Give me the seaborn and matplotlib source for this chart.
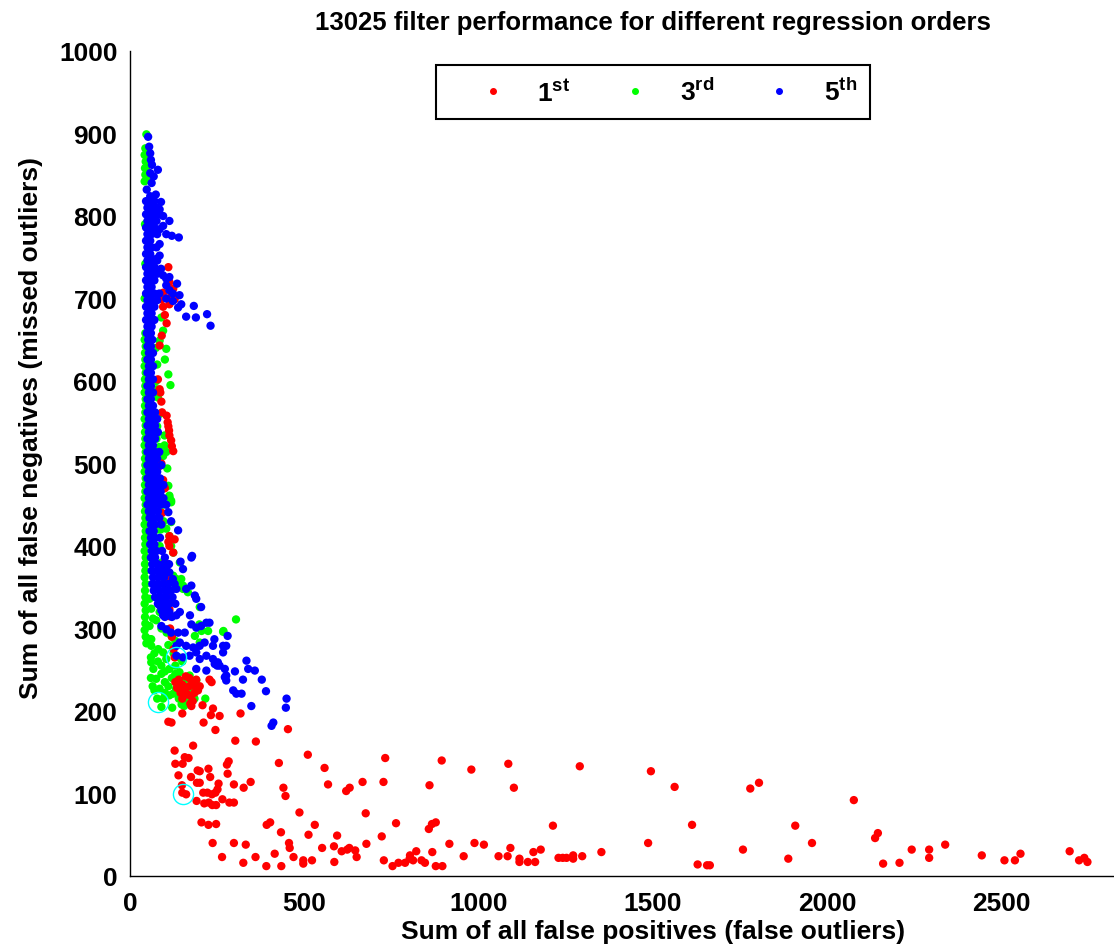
import matplotlib
matplotlib.use("Agg")
import matplotlib.pyplot as plt
from matplotlib.lines import Line2D
import seaborn as sns
import pandas as pd

# Filter runs: (sum of false positives, sum of false negatives) per regression order
first_order = [
    (110, 738), (113, 720), (124, 712), (95, 707), (91, 699), (113, 693), (128, 699), (118, 703),
    (100, 680), (105, 670), (95, 690), (91, 655), (85, 643),
    (80, 602), (85, 590), (87, 586), (90, 575), (92, 562), (105, 558), (108, 550), (110, 545),
    (112, 540), (113, 534), (118, 528), (120, 521), (124, 515),
    (90, 500), (85, 497), (100, 470), (95, 480), (85, 457), (92, 440), (89, 427), (110, 405),
    (113, 412), (113, 400), (128, 408), (124, 392),
    (100, 380), (105, 360), (110, 340), (113, 323), (113, 315), (108, 330), (115, 300), (120, 290),
    (128, 265), (125, 275),
    (130, 235), (140, 238), (150, 232), (160, 228), (170, 230), (180, 235), (190, 228), (145, 222),
    (155, 225), (165, 220), (175, 218), (185, 222), (195, 225), (135, 228), (170, 240), (160, 242),
    (190, 238), (150, 215), (180, 212), (200, 230), (173, 209), (176, 206),
    (228, 238), (234, 235), (208, 207), (238, 203), (232, 195), (257, 194), (317, 197), (211, 186),
    (245, 177), (150, 197), (110, 187), (119, 186),
    (302, 164), (361, 163), (453, 178), (181, 158), (128, 152), (510, 147), (157, 144), (168, 143),
    (130, 136), (151, 136), (278, 135), (283, 139), (427, 137), (194, 128), (200, 127), (225, 130),
    (280, 124), (139, 122), (175, 120), (230, 120), (200, 113), (192, 113), (149, 110), (150, 101),
    (161, 99), (254, 112), (298, 111), (326, 107), (346, 114), (440, 107), (446, 97), (210, 101),
    (222, 101), (235, 99), (245, 101), (251, 105), (191, 91), (213, 88), (226, 89), (236, 86),
    (247, 86), (265, 93), (285, 89), (298, 89), (486, 77), (205, 65), (225, 62), (247, 63),
    (392, 62), (402, 65), (433, 53), (512, 50), (530, 62), (237, 40), (298, 40), (332, 38),
    (456, 40), (458, 34), (415, 27), (264, 23), (360, 23), (469, 23), (325, 16), (391, 12),
    (434, 12), (497, 19), (522, 19),
    (558, 131), (568, 111), (620, 103), (630, 107), (667, 114), (727, 114), (732, 143), (859, 110),
    (894, 140), (594, 49), (676, 76), (678, 39), (763, 64), (857, 57), (866, 63), (877, 65),
    (916, 39), (551, 34), (585, 36), (607, 30), (623, 32), (629, 34), (646, 31), (650, 23),
    (722, 48), (497, 15), (586, 17), (728, 19), (753, 12), (770, 16), (789, 16), (803, 25),
    (802, 21), (812, 19), (821, 30), (836, 19), (846, 16), (867, 29), (877, 12), (896, 12),
    (957, 24),
    (979, 129), (1085, 136), (1101, 107), (1290, 133), (1494, 127), (1562, 108), (1779, 106),
    (1804, 113), (1213, 61), (1612, 62), (988, 40), (1015, 38), (1057, 24), (1083, 24), (1091, 34),
    (1117, 21), (1117, 17), (1141, 17), (1162, 17), (1157, 29), (1178, 32), (1229, 22), (1241, 22),
    (1252, 22), (1271, 25), (1271, 21), (1297, 24), (1352, 29), (1486, 40), (1628, 14), (1655, 13),
    (1663, 13), (1758, 32), (1888, 21),
    (1908, 61), (2137, 46), (2145, 52), (2076, 92), (1956, 40), (2160, 15), (2207, 16), (2242, 32),
    (2292, 32), (2292, 22), (2338, 38), (2443, 25), (2508, 19), (2538, 19), (2554, 27), (2695, 30),
    (2722, 19), (2737, 22), (2746, 17),
]

third_order = [
    # left edge of the dense column
    (44, 882), (42, 874), (45, 866), (43, 858), (44, 850), (42, 842),
    (43, 790), (44, 742), (42, 700),
    (44, 658), (42, 650), (45, 642), (43, 634),
    (44, 626), (42, 618), (45, 610), (43, 602), (44, 594), (42, 586), (45, 578), (43, 570),
    (44, 562), (42, 554), (45, 546), (43, 538), (44, 530), (42, 522), (45, 514), (43, 506),
    (44, 498), (42, 490), (45, 482), (43, 474), (44, 466), (42, 458), (45, 450), (43, 442),
    (44, 434), (42, 426), (45, 418), (43, 410), (44, 402), (42, 394), (45, 386), (43, 378),
    (44, 370), (42, 362), (45, 354), (43, 346), (44, 338), (42, 330), (45, 322), (43, 314),
    (44, 306), (42, 298), (45, 290), (47, 282),
    # scattered points of the column
    (47, 899), (52, 879), (50, 870), (48, 860), (52, 847), (90, 677), (95, 661),
    (104, 639), (100, 626), (110, 608), (116, 595), (85, 649), (60, 670), (55, 660),
    (99, 534), (99, 522), (104, 514), (95, 509), (107, 494), (110, 473), (113, 461), (118, 455),
    (113, 459), (118, 453), (118, 429), (104, 421), (113, 412), (118, 400), (124, 392),
    (143, 380), (147, 360), (152, 352), (166, 344), (142, 356), (152, 348), (124, 364), (133, 360),
    (56, 336), (61, 324), (66, 312), (56, 303), (61, 287), (58, 287),
    (74, 640), (78, 620), (76, 590), (80, 560), (76, 530), (84, 520), (78, 505), (82, 480),
    (86, 460), (94, 450), (96, 430), (88, 420),
    (75, 600), (80, 580), (85, 560), (78, 545), (82, 500), (88, 470), (90, 440), (80, 420),
    (85, 400), (90, 380), (95, 370), (100, 360), (105, 350), (110, 340), (100, 330), (85, 320),
    (75, 310), (90, 300), (105, 295), (120, 290), (130, 285), (110, 280), (125, 270), (140, 265),
    # low cluster
    (61, 279), (81, 275), (95, 271), (104, 263), (61, 259), (67, 251),
    (113, 251), (142, 247), (75, 239), (161, 239), (152, 231), (132, 227), (85, 227), (70, 225),
    (113, 219), (95, 215), (124, 221), (152, 221), (171, 243), (190, 237), (216, 215), (155, 206),
    (121, 204), (148, 208), (150, 260), (130, 255), (90, 245), (100, 235), (140, 235), (170, 230),
    (60, 265), (70, 270), (80, 260), (90, 255), (100, 248), (120, 240), (130, 245), (110, 230),
    (100, 222), (140, 215), (165, 212), (180, 225), (185, 215), (60, 240), (65, 230), (78, 215),
    (90, 205),
    (304, 311), (268, 297), (200, 283), (186, 291), (199, 305), (205, 297), (224, 297), (267, 296),
    (200, 326),
]

fifth_order = [
    # dense column
    (52, 896), (55, 884), (58, 876), (60, 868), (63, 862),
    (58, 852), (68, 848), (62, 840), (74, 826), (58, 824), (48, 832),
    (46, 818), (58, 818), (70, 818), (50, 810), (62, 810), (76, 810),
    (46, 802), (58, 802), (70, 802), (84, 802), (50, 794), (62, 794), (76, 794),
    (46, 786), (58, 786), (70, 786), (50, 778), (62, 778), (78, 778),
    (46, 770), (58, 770), (50, 762), (62, 762), (76, 762), (46, 754), (58, 754),
    (50, 746), (62, 746), (78, 746), (46, 738), (58, 738), (70, 738),
    (50, 730), (62, 730), (78, 730), (46, 722), (58, 722), (70, 722), (50, 714), (62, 714),
    (46, 706), (58, 706), (70, 706), (84, 706), (50, 698), (62, 698), (78, 698),
    (46, 690), (58, 690), (70, 690), (50, 682), (62, 682), (46, 674), (58, 674), (70, 674),
    (50, 666), (62, 666), (48, 658), (60, 658), (52, 650), (64, 650),
    (50, 642), (60, 642), (54, 634), (66, 634), (50, 626), (60, 626), (54, 618), (66, 618),
    (50, 610), (60, 610), (54, 602), (66, 602), (50, 594), (60, 594), (54, 586), (66, 586),
    (50, 578), (60, 578), (54, 570), (66, 570), (50, 562), (60, 562), (72, 562),
    (54, 554), (66, 554), (78, 554), (50, 546), (60, 546), (72, 546),
    (54, 538), (66, 538), (80, 538), (50, 530), (60, 530), (72, 530), (54, 522), (66, 522),
    (50, 514), (60, 514), (72, 514), (84, 514), (54, 506), (66, 506), (78, 506),
    (50, 498), (60, 498), (72, 498), (90, 498), (54, 490), (66, 490), (78, 490),
    (50, 482), (60, 482), (72, 482), (86, 482), (54, 474), (66, 474), (80, 474), (96, 474),
    (50, 466), (60, 466), (72, 466), (88, 466), (54, 458), (66, 458), (80, 458), (96, 458),
    (50, 450), (60, 450), (72, 450), (88, 450), (104, 450), (54, 442), (66, 442), (80, 442),
    (56, 434), (68, 434), (84, 434), (60, 426), (72, 426), (90, 426), (56, 418), (68, 418),
    (60, 410), (72, 410), (86, 410), (58, 402), (70, 402), (62, 394), (76, 394), (92, 394),
    (60, 386), (72, 386), (100, 386), (64, 378), (80, 378), (96, 378), (112, 378),
    (62, 370), (76, 370), (90, 370), (106, 370), (66, 362), (82, 362), (98, 362),
    (64, 354), (78, 354), (94, 354), (110, 354), (128, 354), (68, 346), (84, 346), (100, 346),
    (118, 346), (72, 338), (88, 338), (104, 338), (122, 338), (80, 330), (96, 330), (112, 330),
    (130, 330), (90, 322), (108, 322), (100, 314), (120, 314),
    # offshoots of the column
    (80, 856), (89, 817), (85, 808), (95, 800), (113, 794), (104, 778), (120, 776), (140, 774),
    (95, 788), (85, 784), (85, 766), (75, 748), (85, 752), (89, 736), (95, 728), (104, 724),
    (113, 726), (135, 718), (104, 716), (113, 710), (123, 706), (142, 704), (104, 700), (123, 697),
    (147, 693), (138, 689), (183, 691), (161, 678), (189, 677), (221, 681), (231, 667),
    (110, 441), (118, 430), (138, 419), (176, 386), (178, 388), (145, 381), (152, 372),
    (104, 376), (113, 368), (123, 360), (104, 344), (133, 348), (161, 348), (176, 352), (186, 340),
    (190, 336), (204, 326), (85, 328), (104, 324), (113, 320), (95, 316), (133, 316), (143, 320),
    # spread below the column
    (90, 303), (104, 299), (118, 295), (138, 295), (157, 295), (172, 316), (176, 305), (190, 301),
    (204, 303), (219, 307), (228, 307), (143, 283), (161, 279), (133, 279), (181, 277), (200, 279),
    (214, 283), (242, 287), (238, 279), (267, 279), (280, 291), (276, 279), (267, 271), (133, 267),
    (152, 265), (171, 267), (190, 271), (200, 263), (219, 267), (238, 263), (252, 259), (257, 255),
    (190, 251), (219, 249), (243, 257), (272, 251), (301, 248), (334, 261), (339, 251), (358, 249),
    (272, 241), (276, 237), (324, 238), (378, 238), (296, 225), (305, 221), (320, 221), (390, 224),
    (348, 206), (449, 215), (447, 204), (411, 186), (406, 182), (276, 243), (250, 255),
]

# Highlighted operating points
marked_x = [80, 132, 151]
marked_y = [211, 265, 100]

series_labels = [r"1$^{\mathbf{st}}$", r"3$^{\mathbf{rd}}$", r"5$^{\mathbf{th}}$"]
series_colors = ["#ff0000", "#00ff00", "#0000ff"]
x_ticks = [0, 500, 1000, 1500, 2000, 2500]
y_ticks = list(range(0, 1001, 100))


def to_frame(points, order):
    return pd.DataFrame({"fp": [p[0] for p in points],
                         "fn": [p[1] for p in points],
                         "order": order})


data = pd.concat([to_frame(third_order, "3rd"),
                  to_frame(first_order, "1st"),
                  to_frame(fifth_order, "5th")], ignore_index=True)

sns.set_theme(style="white")
plt.rcParams["font.family"] = ["Liberation Sans", "DejaVu Sans"]
plt.rcParams["font.weight"] = "bold"
plt.rcParams["mathtext.fontset"] = "custom"
plt.rcParams["mathtext.rm"] = "Liberation Sans:bold"
plt.rcParams["mathtext.it"] = "Liberation Sans:italic:bold"
plt.rcParams["mathtext.bf"] = "Liberation Sans:bold"
for key in ("text.color", "axes.labelcolor", "xtick.labelcolor", "ytick.labelcolor"):
    plt.rcParams[key] = "black"

fig = plt.figure(figsize=(11.14, 9.53), dpi=100)
ax = fig.add_axes([130 / 1114, 76 / 953, 1046 / 1114, 825 / 953])

palette = {"1st": series_colors[0], "3rd": series_colors[1], "5th": series_colors[2]}
sns.scatterplot(data=data, x="fp", y="fn", hue="order", palette=palette,
                s=36, linewidth=0, alpha=1, legend=False, ax=ax, zorder=3)

ax.plot(marked_x, marked_y, "o", mfc="none", mec="#00ffff", ms=14.5, mew=1.0, zorder=4)

ax.set_xlim(0, 3000)
ax.set_ylim(0, 1000)
ax.set_xticks(x_ticks)
ax.set_yticks(y_ticks)
ax.tick_params(direction="in", length=6.5, width=1, color="#333333",
               labelsize=19, top=False, right=False)
ax.tick_params(axis="x", pad=11)
ax.tick_params(axis="y", pad=9)
for side in ("top", "right"):
    ax.spines[side].set_visible(False)
for side in ("left", "bottom"):
    ax.spines[side].set_color("black")
    ax.spines[side].set_linewidth(1.0)

ax.set_xlabel("Sum of all false positives (false outliers)", fontsize=19, fontweight="bold",
              labelpad=3)
ax.set_ylabel("Sum of all false negatives (missed outliers)", fontsize=19, fontweight="bold")
ax.yaxis.set_label_coords(-0.083, 0.544)
ax.set_title("13025 filter performance for different regression orders", fontsize=18.5,
             fontweight="bold", pad=16)

handles = [Line2D([], [], marker="o", ls="", color=c, markersize=4) for c in series_colors]
leg = ax.legend(handles, series_labels, loc="upper center", bbox_to_anchor=(0.5, 0.983),
                borderaxespad=0, ncol=3, fontsize=19, handlelength=3.3, handletextpad=0.05,
                columnspacing=0.8, borderpad=0.5, fancybox=False, framealpha=1)
leg.get_frame().set_edgecolor("black")
leg.get_frame().set_linewidth(1.5)

fig.savefig("out.png", dpi=100)
